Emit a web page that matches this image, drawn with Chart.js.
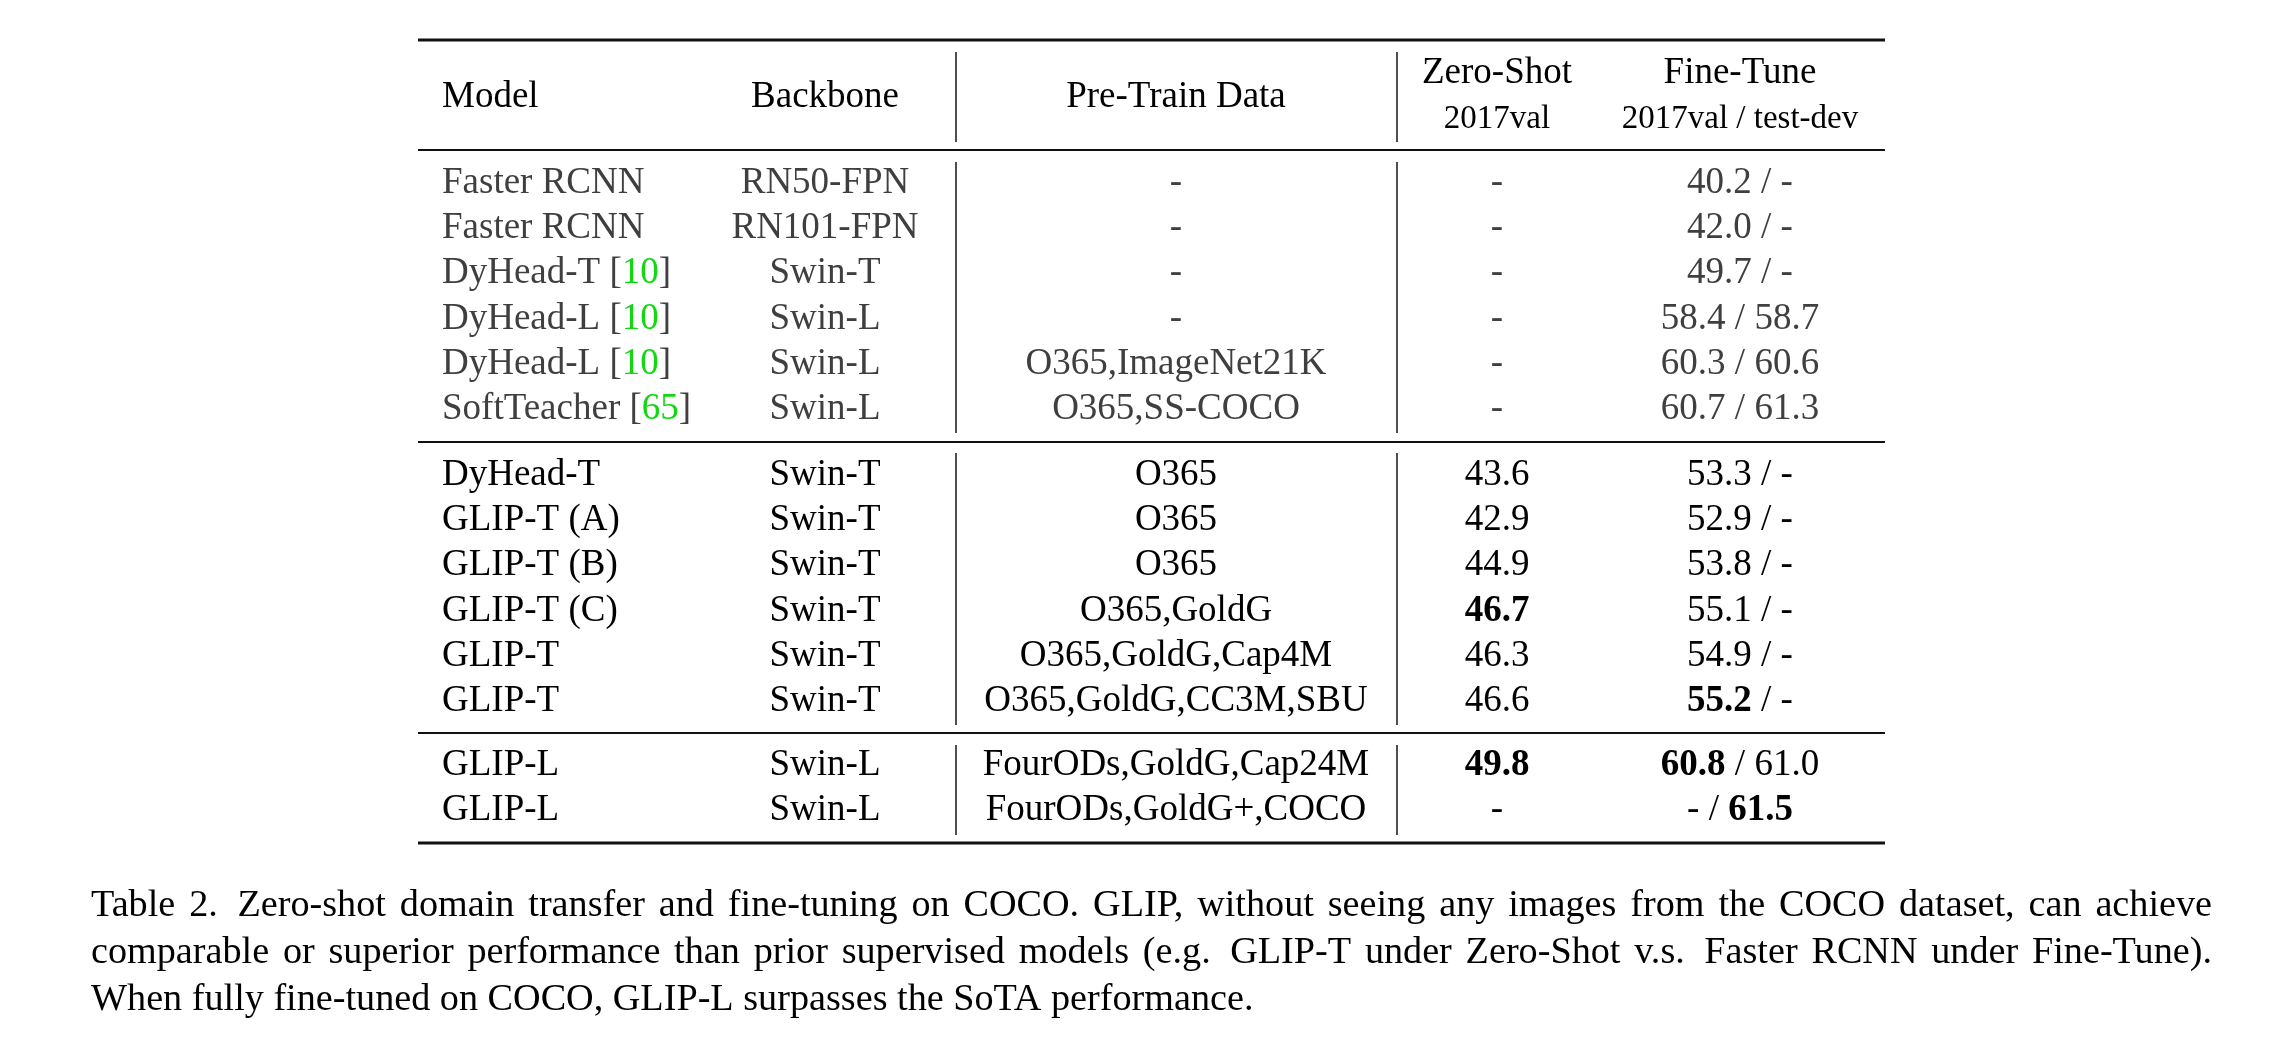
<!DOCTYPE html>
<html>
<head>
<meta charset="utf-8">
<title>Table 2</title>
<script src="https://cdn.jsdelivr.net/npm/chart.js@4.4.1/dist/chart.umd.min.js"></script>
<style>
  html, body { margin: 0; padding: 0; background: #fff; }
  canvas { display: block; }
</style>
</head>
<body>
<canvas id="table" width="2284" height="1060"></canvas>
<script>
// table contents
const models = ["Faster RCNN", "Faster RCNN", "DyHead-T", "DyHead-L", "DyHead-L", "SoftTeacher",
  "DyHead-T", "GLIP-T (A)", "GLIP-T (B)", "GLIP-T (C)", "GLIP-T", "GLIP-T",
  "GLIP-L", "GLIP-L"];
const citations = [null, null, "10", "10", "10", "65", null, null, null, null, null, null, null, null];
const backbones = ["RN50-FPN", "RN101-FPN", "Swin-T", "Swin-L", "Swin-L", "Swin-L",
  "Swin-T", "Swin-T", "Swin-T", "Swin-T", "Swin-T", "Swin-T",
  "Swin-L", "Swin-L"];
const preTrainData = ["-", "-", "-", "-", "O365,ImageNet21K", "O365,SS-COCO",
  "O365", "O365", "O365", "O365,GoldG", "O365,GoldG,Cap4M", "O365,GoldG,CC3M,SBU",
  "FourODs,GoldG,Cap24M", "FourODs,GoldG+,COCO"];
const zeroShot = ["-", "-", "-", "-", "-", "-", "43.6", "42.9", "44.9", "46.7", "46.3", "46.6", "49.8", "-"];
const fineTuneVal = ["40.2", "42.0", "49.7", "58.4", "60.3", "60.7", "53.3", "52.9", "53.8", "55.1", "54.9", "55.2", "60.8", "-"];
const fineTuneTestDev = ["-", "-", "-", "58.7", "60.6", "61.3", "-", "-", "-", "-", "-", "-", "61.0", "61.5"];
const boldZeroShot = [9, 12];
const boldVal = [11, 12];
const boldTestDev = [13];
const groupSizes = [6, 6, 2];
const headers = ["Model", "Backbone", "Pre-Train Data", "Zero-Shot", "Fine-Tune"];
const subHeaders = ["2017val", "2017val / test-dev"];
const captionLines = [
  "Table 2.  Zero-shot domain transfer and fine-tuning on COCO. GLIP, without seeing any images from the COCO dataset, can achieve",
  "comparable or superior performance than prior supervised models (e.g.  GLIP-T under Zero-Shot v.s.  Faster RCNN under Fine-Tune).",
  "When fully fine-tuned on COCO, GLIP-L surpasses the SoTA performance.",
];

const W = 2284, H = 1060;
const SERIF = '"Liberation Serif", "Times New Roman", serif';
const bodyFont = (bold) => `${bold ? "bold " : ""}37px ${SERIF}`;

// layout
const tableLeft = 418, tableRight = 1885;
const modelX = 442, backboneX = 825, preTrainX = 1176, zeroShotX = 1497, fineTuneX = 1740;
const vLines = [956, 1397];
const groupStarts = [193, 485, 775];
const rowPitch = 45.2;

const tablePlugin = {
  id: "table",
  afterDraw(chart) {
    const { ctx } = chart;
    const sx = (v) => chart.scales.x.getPixelForValue(v);
    const sy = (v) => chart.scales.y.getPixelForValue(v);

    ctx.save();
    ctx.textBaseline = "alphabetic";

    const hRule = (y, w) => {
      ctx.strokeStyle = "#111";
      ctx.lineWidth = w;
      ctx.beginPath();
      ctx.moveTo(sx(tableLeft), sy(y));
      ctx.lineTo(sx(tableRight), sy(y));
      ctx.stroke();
    };
    const vRule = (x, y0, y1) => {
      ctx.strokeStyle = "#222";
      ctx.lineWidth = 1.6;
      ctx.beginPath();
      ctx.moveTo(sx(x), sy(y0));
      ctx.lineTo(sx(x), sy(y1));
      ctx.stroke();
    };
    const text = (str, x, y, font, color, align) => {
      ctx.font = font;
      ctx.fillStyle = color;
      ctx.textAlign = align || "center";
      ctx.fillText(str, sx(x), sy(y));
    };
    // draws pieces [{t, font, color}] centred on x
    const pieces = (parts, x, y) => {
      let total = 0;
      parts.forEach((p) => { ctx.font = p.font; p.w = ctx.measureText(p.t).width; total += p.w; });
      let cur = sx(x) - total / 2;
      ctx.textAlign = "left";
      parts.forEach((p) => {
        ctx.font = p.font;
        ctx.fillStyle = p.color;
        ctx.fillText(p.t, cur, sy(y));
        cur += p.w;
      });
    };

    // rules
    hRule(40, 3);
    hRule(150, 2);
    hRule(442, 2);
    hRule(733, 2);
    hRule(843, 3);
    const segments = [[52, 142], [162, 433], [453, 725], [745, 835]];
    vLines.forEach((x) => segments.forEach(([a, b]) => vRule(x, a, b)));

    // header
    const hf = `37px ${SERIF}`;
    const sf = `33px ${SERIF}`;
    text(headers[0], modelX, 107, hf, "#000", "left");
    text(headers[1], backboneX, 107, hf, "#000");
    text(headers[2], preTrainX, 107, hf, "#000");
    text(headers[3], zeroShotX, 83, hf, "#000");
    text(headers[4], fineTuneX, 83, hf, "#000");
    text(subHeaders[0], zeroShotX, 128, sf, "#000");
    text(subHeaders[1], fineTuneX, 128, sf, "#000");

    // body rows
    let row = 0;
    groupSizes.forEach((size, g) => {
      for (let k = 0; k < size; k++, row++) {
        const y = groupStarts[g] + k * rowPitch;
        const color = g === 0 ? "#3f3f3f" : "#000";
        const parts = [{ t: models[row], font: bodyFont(false), color }];
        if (citations[row]) {
          parts[0].t += " [";
          parts.push({ t: citations[row], font: bodyFont(false), color: "#12d812" });
          parts.push({ t: "]", font: bodyFont(false), color });
        }
        // left aligned model cell
        ctx.textAlign = "left";
        let cx = sx(modelX);
        parts.forEach((p) => {
          ctx.font = p.font;
          ctx.fillStyle = p.color;
          ctx.fillText(p.t, cx, sy(y));
          cx += ctx.measureText(p.t).width;
        });
        text(backbones[row], backboneX, y, bodyFont(false), color);
        text(preTrainData[row], preTrainX, y, bodyFont(false), color);
        text(zeroShot[row], zeroShotX, y, bodyFont(boldZeroShot.includes(row)), color);
        pieces([
          { t: fineTuneVal[row], font: bodyFont(boldVal.includes(row)), color },
          { t: " / ", font: bodyFont(false), color },
          { t: fineTuneTestDev[row], font: bodyFont(boldTestDev.includes(row)), color },
        ], fineTuneX, y);
      }
    });

    // caption, justified like the paper (double space = sentence space)
    const capLeft = 91, capRight = 2212, capTop = 916, capPitch = 47;
    ctx.font = `38.2px ${SERIF}`;
    ctx.fillStyle = "#000";
    ctx.textAlign = "left";
    const space = ctx.measureText(" ").width;
    captionLines.forEach((line, i) => {
      const y = sy(capTop + i * capPitch);
      const words = [];
      const gaps = [];
      let pending = 0;
      line.split(" ").forEach((t) => {
        if (t === "") { pending += 0.6; return; }
        if (words.length) gaps.push(1 + pending);
        pending = 0;
        words.push(t);
      });
      const wordsWidth = words.reduce((s, w) => s + ctx.measureText(w).width, 0);
      const baseGap = gaps.reduce((s, g) => s + g * space, 0);
      const last = i === captionLines.length - 1;
      const extra = last ? 0 : (sx(capRight) - sx(capLeft) - wordsWidth - baseGap) / gaps.length;
      let x = sx(capLeft);
      words.forEach((w, j) => {
        ctx.fillText(w, x, y);
        x += ctx.measureText(w).width;
        if (j < gaps.length) x += gaps[j] * space + extra;
      });
    });

    ctx.restore();
  },
};

new Chart(document.getElementById("table"), {
  type: "scatter",
  data: { datasets: [] },
  options: {
    responsive: false,
    animation: false,
    events: [],
    layout: { padding: 0 },
    plugins: { legend: { display: false }, tooltip: { enabled: false } },
    scales: {
      x: { type: "linear", min: 0, max: W, display: false },
      y: { type: "linear", min: 0, max: H, reverse: true, display: false },
    },
  },
  plugins: [tablePlugin],
});
</script>
</body>
</html>
